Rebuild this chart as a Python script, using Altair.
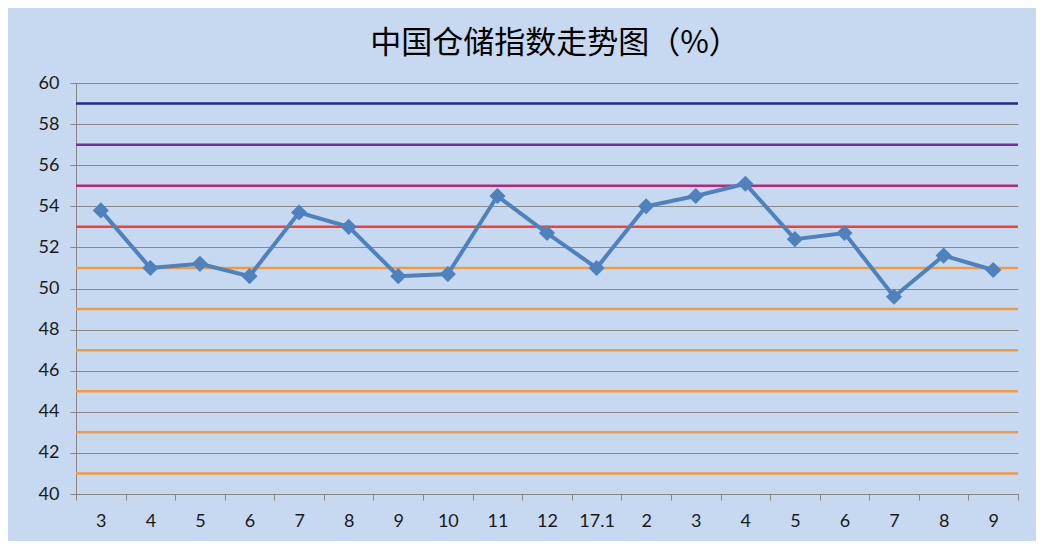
import altair as alt
import pandas as pd

months = ["3", "4", "5", "6", "7", "8", "9", "10", "11", "12", "17.1",
          "2", "3", "4", "5", "6", "7", "8", "9"]
values = [53.8, 51.0, 51.2, 50.6, 53.7, 53.0, 50.6, 50.7, 54.5, 52.7, 51.0,
          54.0, 54.5, 55.1, 52.4, 52.7, 49.6, 51.6, 50.9]
levels = [59, 57, 55, 53, 51, 49, 47, 45, 43, 41]
level_colors = ["#1F2A8C", "#7030A0", "#B5287A", "#F2413A", "#F39A3C",
                "#F39A3C", "#F39A3C", "#F39A3C", "#F39A3C", "#F39A3C"]
y_ticks = list(range(40, 61, 2))

keys = [f"{i:02d}|{m}" for i, m in enumerate(months)]
df = pd.DataFrame({"key": keys, "v": values})
lv = pd.DataFrame({"level": levels, "c": level_colors})

label_font = "Lato"

x_enc = alt.X(
    "key:O", sort=None,
    scale=alt.Scale(type="band", paddingInner=0, paddingOuter=0),
    axis=alt.Axis(title=None, labelAngle=0,
                  labelExpr="split(datum.label, '|')[1]",
                  tickBand="extent", grid=False,
                  domainColor="#868686", tickColor="#868686", tickSize=6,
                  labelPadding=12, labelFont=label_font, labelFontSize=18,
                  labelColor="#1a1a1a"),
)
y_enc = alt.Y(
    "v:Q",
    scale=alt.Scale(domain=[40, 60], nice=False, zero=False),
    axis=alt.Axis(values=y_ticks, title=None, gridColor="#8A8A8A",
                  gridWidth=1, domainColor="#868686", tickColor="#868686",
                  tickSize=6, labelPadding=11, labelFont=label_font,
                  labelFontSize=18, labelColor="#1a1a1a"),
)

rules = alt.Chart(lv).mark_rule(strokeWidth=2.5).encode(
    y=alt.Y("level:Q", scale=alt.Scale(domain=[40, 60], nice=False, zero=False)),
    color=alt.Color("c:N", scale=None),
)

line = alt.Chart(df).mark_line(color="#4F81BD", strokeWidth=4).encode(
    x=x_enc, y=y_enc)
pts = alt.Chart(df).mark_point(shape="diamond", filled=True, size=260,
                               color="#4F81BD", opacity=1).encode(
    x=x_enc, y=y_enc)

chart = alt.layer(rules, line, pts).properties(
    width=942, height=411,
    title=alt.Title("中国仓储指数走势图（%）", font="Noto Sans CJK SC",
                    fontSize=31, fontWeight="normal", color="#000000",
                    anchor="middle", offset=14, dx=8),
    autosize=alt.AutoSizeParams(type="none"),
    padding={"left": 68, "top": 75, "right": 18, "bottom": 47},
    background="#C6D9F0",
).configure_view(stroke=None, fill="#C6D9F0")

chart.save("out.html", embed_options={"renderer": "svg", "actions": False})
